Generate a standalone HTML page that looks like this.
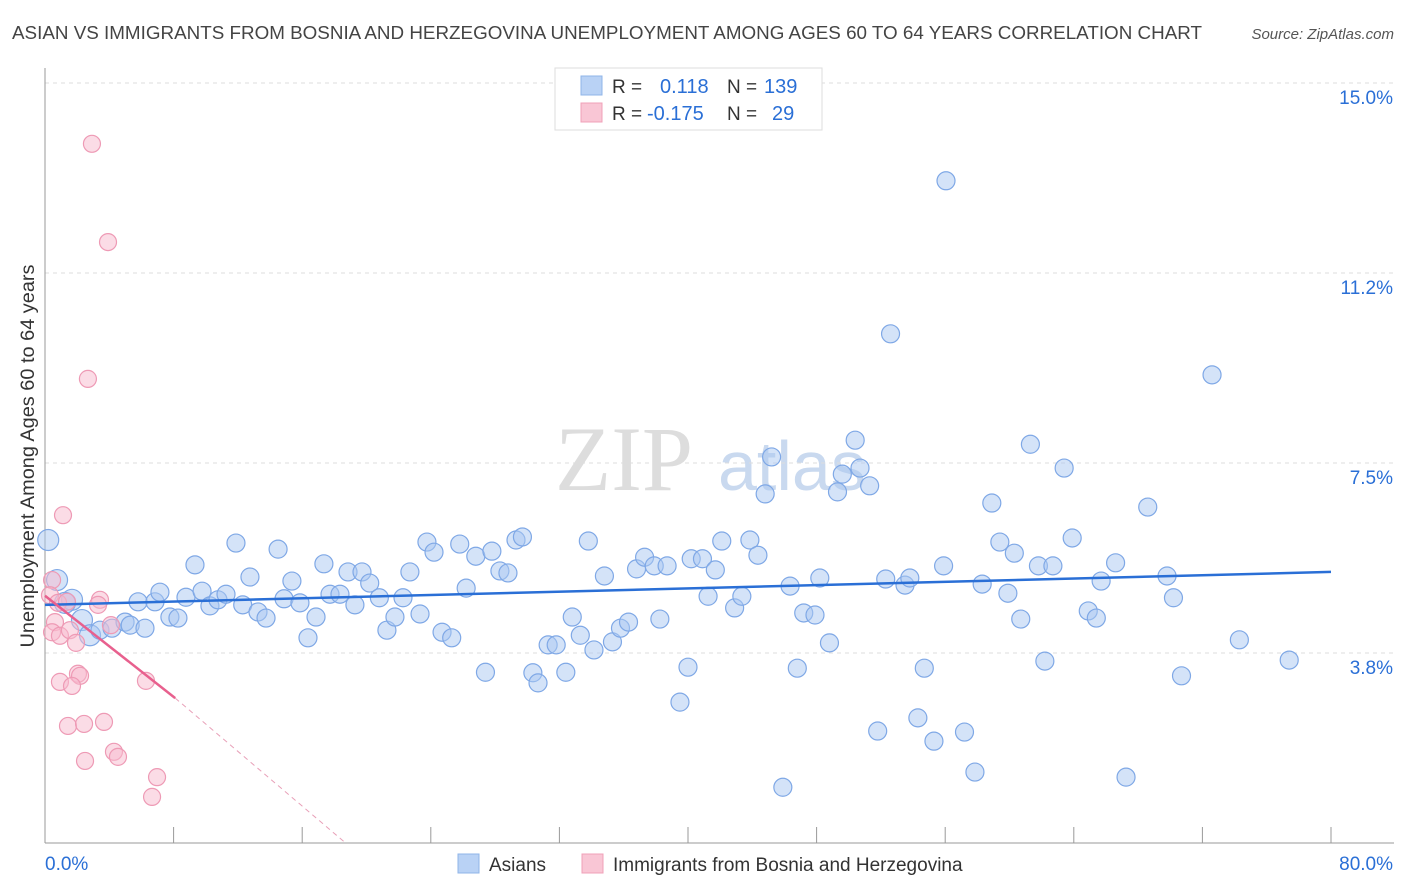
<!DOCTYPE html>
<html><head><meta charset="utf-8"><style>
body{margin:0;background:#fff;font-family:"Liberation Sans",sans-serif;}
svg{display:block}
</style></head><body>
<svg id="chart" width="1406" height="892" xmlns="http://www.w3.org/2000/svg">
<text x="12" y="39" font-size="18" fill="#444" textLength="1190" lengthAdjust="spacingAndGlyphs">ASIAN VS IMMIGRANTS FROM BOSNIA AND HERZEGOVINA UNEMPLOYMENT AMONG AGES 60 TO 64 YEARS CORRELATION CHART</text>
<text x="1394" y="39" font-size="15" fill="#555" font-style="italic" text-anchor="end">Source: ZipAtlas.com</text>
<g>
<text x="555" y="490" font-size="92" fill="#ddd" font-family="Liberation Serif,serif">ZIP</text>
<text x="718" y="490" font-size="70" fill="#c9d9ef">atlas</text>
</g>
<g id="grid"></g>
<g id="axes"></g>
<g id="pts"></g>
<g id="lines"></g>
<g>
<rect x="555" y="68" width="267" height="62" fill="#fff" stroke="#ddd"/>
<rect x="581" y="76" width="21" height="19" fill="#b9d2f5" stroke="#8fb4e8"/>
<rect x="581" y="103" width="21" height="19" fill="#f9c6d5" stroke="#f0a0b8"/>
<text x="612" y="93" font-size="19" fill="#333">R =</text>
<text x="660" y="93" font-size="20" fill="#2a6fd6">0.118</text>
<text x="727" y="93" font-size="19" fill="#333">N =</text>
<text x="764" y="93" font-size="20" fill="#2a6fd6">139</text>
<text x="612" y="120" font-size="19" fill="#333">R =</text>
<text x="647" y="120" font-size="20" fill="#2a6fd6">-0.175</text>
<text x="727" y="120" font-size="19" fill="#333">N =</text>
<text x="772" y="120" font-size="20" fill="#2a6fd6">29</text>
</g>
<g>
<rect x="458" y="854" width="21" height="19" fill="#b9d2f5" stroke="#8fb4e8"/>
<text x="489" y="871" font-size="19" fill="#333">Asians</text>
<rect x="582" y="854" width="21" height="19" fill="#f9c6d5" stroke="#f0a0b8"/>
<text x="613" y="871" font-size="19" fill="#333">Immigrants from Bosnia and Herzegovina</text>
</g>
<text transform="translate(34,456) rotate(-90)" font-size="19" fill="#333" text-anchor="middle" textLength="383" lengthAdjust="spacingAndGlyphs">Unemployment Among Ages 60 to 64 years</text>
</svg>
<script>
const yTicks=[3.75,7.5,11.25,15];
const yTickLabels=["3.8%","7.5%","11.2%","15.0%"];
const xTicks=[0,8,16,24,32,40,48,56,64,72,80];
const blueX=[0.2,0.75,1.68,1.24,2.3,2.8,3.42,4.17,4.98,5.3,6.22,5.79,6.84,7.15,7.77,8.27,8.77,9.33,9.77,10.26,10.76,11.26,11.88,12.3,12.75,13.25,13.75,14.5,14.87,15.36,15.86,16.36,16.86,17.35,17.73,18.35,18.85,19.28,19.72,20.2,20.8,21.27,21.77,22.27,22.7,23.33,23.76,24.2,24.7,25.3,25.8,26.2,26.8,27.4,27.8,28.3,28.8,29.3,29.7,30.35,30.67,31.3,31.8,32.4,32.8,33.3,33.8,34.15,34.8,35.3,35.8,36.3,36.8,37.3,37.9,38.25,38.7,39.5,40.0,40.2,40.9,41.25,41.7,42.1,42.9,43.35,43.85,44.35,44.8,45.2,45.9,46.35,46.8,47.2,47.9,48.2,48.8,49.3,49.6,50.4,50.7,51.3,51.8,52.3,52.6,53.5,53.8,54.3,54.7,55.3,55.9,56.05,57.2,57.85,58.3,58.9,59.4,59.9,60.3,60.7,61.3,61.8,62.2,62.7,63.4,63.9,64.9,65.4,65.7,66.6,67.25,68.6,69.8,70.2,70.7,72.6,74.3,77.4];
const blueY=[5.98,5.19,4.80,4.74,4.40,4.10,4.20,4.24,4.36,4.30,4.24,4.76,4.76,4.95,4.46,4.44,4.85,5.49,4.97,4.68,4.80,4.91,5.92,4.70,5.25,4.56,4.44,5.80,4.82,5.17,4.74,4.05,4.46,5.51,4.91,4.91,5.35,4.70,5.35,5.13,4.84,4.20,4.46,4.84,5.35,4.52,5.94,5.74,4.16,4.05,5.90,5.03,5.66,3.37,5.76,5.37,5.33,5.98,6.04,3.36,3.16,3.91,3.91,3.37,4.46,4.10,5.96,3.81,5.27,3.97,4.24,4.36,5.41,5.64,5.47,4.42,5.47,2.78,3.47,5.61,5.61,4.87,5.39,5.96,4.64,4.87,5.98,5.68,6.89,7.62,1.10,5.07,3.45,4.54,4.50,5.23,3.95,6.93,7.28,7.95,7.40,7.05,2.21,5.21,10.05,5.09,5.23,2.47,3.45,2.01,5.47,13.07,2.19,1.40,5.11,6.71,5.94,4.93,5.72,4.42,7.87,5.47,3.59,5.47,7.40,6.02,4.58,4.44,5.17,5.53,1.30,6.63,5.27,4.84,3.30,9.24,4.01,3.61];
const pinkX=[2.92,3.92,2.67,1.12,0.44,0.31,0.81,1.37,3.42,3.3,0.62,0.44,0.93,1.55,1.93,4.1,2.05,2.18,0.93,1.68,6.28,1.43,2.43,3.67,4.29,4.54,2.49,6.97,6.66];
const pinkY=[13.8,11.86,9.16,6.47,5.19,4.89,4.74,4.76,4.80,4.70,4.36,4.16,4.09,4.20,3.95,4.30,3.34,3.30,3.18,3.10,3.20,2.31,2.35,2.39,1.80,1.70,1.62,1.30,0.91];
const blueTrend=[4.7,5.35];
const pinkTrend=[4.88,2.86,0];
const pinkTrendX=[0,8.1,18.7];
const NS="http://www.w3.org/2000/svg";
const X0=45,X1=1331,YB=843,YT=83;
const sx=v=>X0+(v/80)*(X1-X0);
const sy=v=>YB-(v/15)*(YB-YT);
function mk(tag,attrs,parent){const e=document.createElementNS(NS,tag);for(const k in attrs)e.setAttribute(k,attrs[k]);parent.appendChild(e);return e;}
const grid=document.getElementById('grid'),axes=document.getElementById('axes'),pts=document.getElementById('pts'),lines=document.getElementById('lines');
yTicks.forEach((t,i)=>{
 const l=mk('line',{x1:X0,x2:1394,y1:sy(t),y2:sy(t),stroke:'#ddd','stroke-dasharray':'4,4'},grid);
 
 
 const tx=mk('text',{x:1393,y:sy(t)+21,'font-size':19,fill:'#2a6fd6','text-anchor':'end'},axes);
 tx.textContent=yTickLabels[i];
 
 
});
const ax=mk('line',{x1:X0,x2:X0,y1:68,y2:YB,stroke:'#999'},axes);


const bx=mk('line',{x1:X0,x2:1394,y1:YB,y2:YB,stroke:'#999'},axes);


xTicks.forEach(t=>{
 const k=mk('line',{x1:sx(t),x2:sx(t),y1:YB,y2:YB-16,stroke:'#999'},axes);
 
 
});
const xl=mk('text',{x:45,y:870,'font-size':19,fill:'#2a6fd6'},axes);xl.textContent='0.0%';


const xr=mk('text',{x:1393,y:870,'font-size':19,fill:'#2a6fd6','text-anchor':'end'},axes);xr.textContent='80.0%';


blueX.forEach((x,i)=>{
 const c=mk('circle',{cx:sx(x),cy:sy(blueY[i]),r:x<3?10.5:9,fill:'rgba(170,200,242,0.5)',stroke:'#7fa8e6','stroke-width':1.2},pts);
 
 
});
pinkX.forEach((x,i)=>{
 const c=mk('circle',{cx:sx(x),cy:sy(pinkY[i]),r:8.5,fill:'rgba(247,185,205,0.5)',stroke:'#ee9ab5','stroke-width':1.2},pts);
 
 
});
const bl=mk('line',{x1:sx(0),y1:sy(blueTrend[0]),x2:sx(80),y2:sy(blueTrend[1]),stroke:'#2a6fd6','stroke-width':2.5},lines);


const pl=mk('line',{x1:sx(pinkTrendX[0]),y1:sy(pinkTrend[0]),x2:sx(pinkTrendX[1]),y2:sy(pinkTrend[1]),stroke:'#e8608e','stroke-width':2.5},lines);


const pd=mk('line',{x1:sx(pinkTrendX[1]),y1:sy(pinkTrend[1]),x2:sx(pinkTrendX[2]),y2:sy(pinkTrend[2]),stroke:'#e8a0b8','stroke-width':1,'stroke-dasharray':'5,4'},lines);


</script>
</body></html>
